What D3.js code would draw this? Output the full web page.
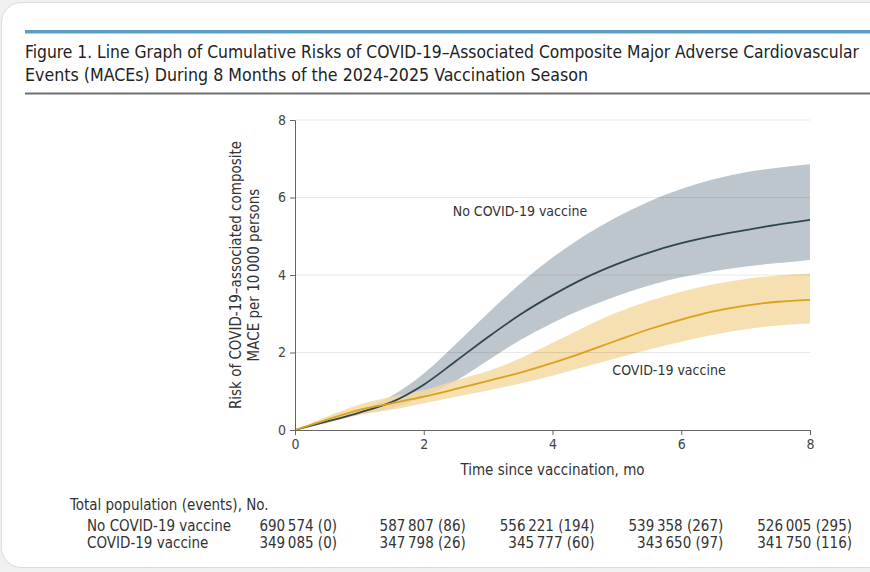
<!DOCTYPE html>
<html>
<head>
<meta charset="utf-8">
<script src="https://cdn.jsdelivr.net/npm/d3@7"></script>
<style>
  html, body { margin: 0; padding: 0; background: #f0f0f0; }
  svg { display: block; }
  text { font-family: "Liberation Sans Narrow", "DejaVu Sans Condensed", "Open Sans", sans-serif; fill: #333; }
</style>
</head>
<body>
<svg width="870" height="572"></svg>
<script>
// cumulative risk per 10 000 persons
const months      = [0, 0.5, 1, 1.5, 2, 2.5, 3, 3.5, 4, 4.5, 5, 5.5, 6, 6.5, 7, 7.5, 8];
const noVaxRisk   = [0, 0.22, 0.45, 0.72, 1.17, 1.78, 2.40, 2.98, 3.48, 3.92, 4.28, 4.58, 4.82, 5.01, 5.16, 5.30, 5.42];
const noVaxLower  = [0, 0.20, 0.40, 0.56, 0.86, 1.27, 1.80, 2.32, 2.76, 3.14, 3.46, 3.73, 3.94, 4.10, 4.22, 4.31, 4.39];
const noVaxUpper  = [0, 0.25, 0.50, 0.88, 1.46, 2.22, 3.02, 3.78, 4.45, 5.02, 5.50, 5.90, 6.22, 6.47, 6.65, 6.77, 6.86];
const vaxRisk     = [0, 0.27, 0.52, 0.69, 0.86, 1.06, 1.27, 1.48, 1.73, 2.01, 2.31, 2.60, 2.85, 3.06, 3.21, 3.31, 3.36];
const vaxLower    = [0, 0.18, 0.39, 0.52, 0.69, 0.86, 1.02, 1.20, 1.40, 1.63, 1.86, 2.08, 2.28, 2.46, 2.60, 2.70, 2.75];
const vaxUpper    = [0, 0.35, 0.66, 0.86, 1.03, 1.28, 1.52, 1.85, 2.25, 2.66, 3.03, 3.33, 3.57, 3.76, 3.90, 3.99, 4.04];

const xTicks = [0, 2, 4, 6, 8];
const yTicks = [0, 2, 4, 6, 8];

const groups = ['No COVID-19 vaccine', 'COVID-19 vaccine'];
const noVaxTable = ['690\u2009574 (0)', '587\u2009807 (86)', '556\u2009221 (194)', '539\u2009358 (267)', '526\u2009005 (295)'];
const vaxTable   = ['349\u2009085 (0)', '347\u2009798 (26)', '345\u2009777 (60)', '343\u2009650 (97)', '341\u2009750 (116)'];

const svg = d3.select('svg');

// card
svg.append('rect')
  .attr('x', 1.5).attr('y', 2.5).attr('width', 900).attr('height', 565)
  .attr('rx', 20)
  .attr('fill', '#fff').attr('stroke', '#dcdcdc');

svg.append('rect').attr('x', 25).attr('y', 30).attr('width', 845).attr('height', 3.5).attr('fill', '#5b9dc6');
svg.append('rect').attr('x', 25).attr('y', 92.5).attr('width', 845).attr('height', 2).attr('fill', '#6e6e6e');

svg.append('text').attr('x', 25).attr('y', 57.5)
  .attr('font-size', 17).style('fill', '#222')
  .attr('textLength', 834).attr('lengthAdjust', 'spacingAndGlyphs')
  .text('Figure 1. Line Graph of Cumulative Risks of COVID-19\u2013Associated Composite Major Adverse Cardiovascular');
svg.append('text').attr('x', 25).attr('y', 81)
  .attr('font-size', 17).style('fill', '#222')
  .attr('textLength', 563).attr('lengthAdjust', 'spacingAndGlyphs')
  .text('Events (MACEs) During 8 Months of the 2024-2025 Vaccination Season');

const x = d3.scaleLinear().domain([0, 8]).range([295, 810]);
const y = d3.scaleLinear().domain([0, 8]).range([430, 120]);

const chart = svg.append('g');

const curve = d3.curveCatmullRom.alpha(0.5);

const band = (lo, hi) => d3.area()
  .x((d, i) => x(months[i]))
  .y0((d, i) => y(lo[i]))
  .y1((d, i) => y(hi[i]))
  .curve(curve)(months);

const line = vals => d3.line()
  .x((d, i) => x(months[i]))
  .y((d, i) => y(vals[i]))
  .curve(curve)(months);

chart.append('path').attr('d', band(noVaxLower, noVaxUpper)).attr('fill', '#bcc6cc');
chart.append('path').attr('d', band(vaxLower, vaxUpper)).attr('fill', '#f4d9a2').attr('opacity', 0.85);

// grid, drawn over the bands
chart.selectAll('.grid')
  .data(yTicks.filter(d => d > 0))
  .enter()
  .append('line')
  .attr('x1', x(0)).attr('x2', x(8))
  .attr('y1', d => y(d)).attr('y2', d => y(d))
  .attr('stroke', '#000').attr('stroke-opacity', 0.09);

chart.append('path').attr('d', line(noVaxRisk)).attr('fill', 'none').attr('stroke', '#2f4651').attr('stroke-width', 1.8);
chart.append('path').attr('d', line(vaxRisk)).attr('fill', 'none').attr('stroke', '#d9a11c').attr('stroke-width', 1.8);

// axes
const xAxis = chart.append('g').attr('transform', `translate(0,${y(0)})`)
  .call(d3.axisBottom(x).tickValues(xTicks).tickSize(5).tickPadding(4));
const yAxis = chart.append('g').attr('transform', `translate(${x(0)},0)`)
  .call(d3.axisLeft(y).tickValues(yTicks).tickSize(5).tickPadding(4));
[xAxis, yAxis].forEach(a => {
  a.select('.domain').attr('stroke', '#666');
  a.selectAll('.tick line').attr('stroke', '#666');
  a.selectAll('.tick text').attr('font-size', 14).style('fill', '#444')
    .style('font-family', '"Liberation Sans Narrow", "DejaVu Sans Condensed", sans-serif');
});

chart.append('text').attr('x', x(4)).attr('y', 475)
  .attr('text-anchor', 'middle').attr('font-size', 15)
  .text('Time since vaccination, mo');

const yLabel = chart.append('g').attr('transform', `translate(0,${(y(0) + y(8)) / 2}) rotate(-90)`);
yLabel.append('text').attr('x', 0).attr('y', 241)
  .attr('text-anchor', 'middle').attr('font-size', 15)
  .text('Risk of COVID-19\u2013associated composite');
yLabel.append('text').attr('x', 0).attr('y', 259)
  .attr('text-anchor', 'middle').attr('font-size', 15)
  .text('MACE per 10\u2009000 persons');

chart.append('text').attr('x', x(2.45)).attr('y', y(5.52)).attr('font-size', 14).text(groups[0]);
chart.append('text').attr('x', x(4.93)).attr('y', y(1.43)).attr('font-size', 14).text(groups[1]);

// table under the chart
const table = svg.append('g');
table.append('text').attr('x', 70).attr('y', 510).attr('font-size', 15).text('Total population (events), No.');
[noVaxTable, vaxTable].forEach((row, r) => {
  const rowY = 531 + r * 17;
  table.append('text').attr('x', 87).attr('y', rowY).attr('font-size', 15).text(groups[r]);
  table.selectAll(null)
    .data(row)
    .enter()
    .append('text')
    .attr('x', (d, i) => x(xTicks[i]) + 42)
    .attr('y', rowY)
    .attr('text-anchor', 'end')
    .attr('font-size', 15)
    .text(d => d);
});
</script>
</body>
</html>
